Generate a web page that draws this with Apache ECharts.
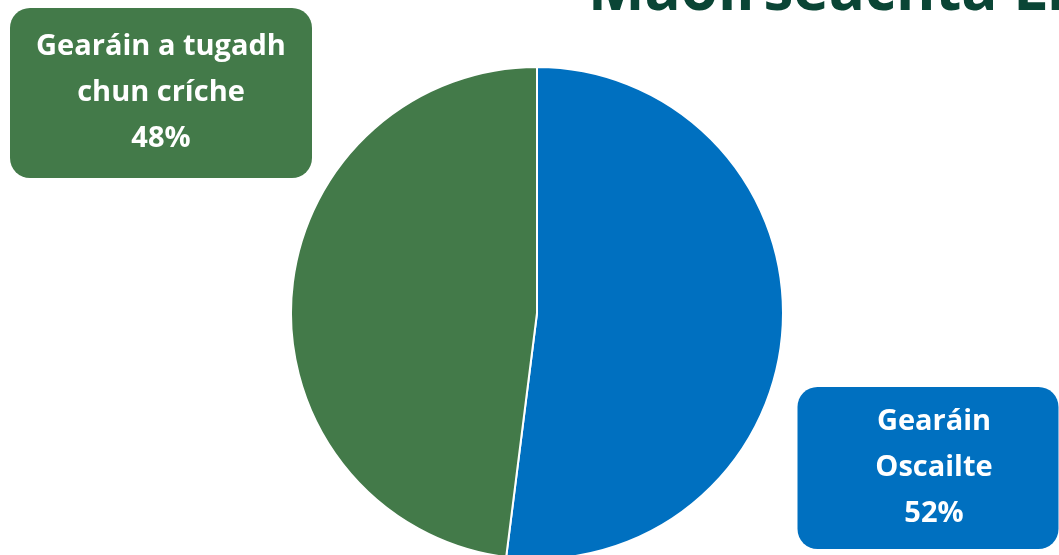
<!DOCTYPE html>
<html><head><meta charset="utf-8">
<script src="https://cdn.jsdelivr.net/npm/echarts@6/dist/echarts.min.js"></script>
<style>html,body{margin:0;padding:0;background:#fff}#c{width:1059px;height:555px}</style>
</head><body><div id="c"></div>
<script>
const categories = ["Gearáin Oscailte", "Gearáin a tugadh chun críche"];
const labelTexts = ["Gearáin\nOscailte", "Gearáin a tugadh\nchun críche"];
const values = [52, 48];
const colors = ["#0070C0", "#437A49"];
const titleText = "Maoirseachta Lı";

const chart = echarts.init(document.getElementById('c'), null, {renderer: 'canvas'});
chart.setOption({
  animation: false,
  graphic: [{
    type: 'text', left: 588, top: -37,
    style: {text: titleText, fill: '#0A4535', font: 'bold 60px "Open Sans"'}
  }],
  series: [{
    type: 'pie',
    center: [537, 313],
    radius: 246,
    startAngle: 90,
    clockwise: true,
    itemStyle: {borderColor: '#fff', borderWidth: 2},
    labelLine: {show: false},
    label: {
      show: true,
      position: 'outside',
      formatter: p => labelTexts[p.dataIndex] + '\n' + p.value + '%',
      color: '#fff',
      fontFamily: 'Open Sans',
      fontWeight: 'bold',
      fontSize: 29,
      lineHeight: 46,
      align: 'center',
      borderRadius: 20
    },
    labelLayout: function (p) {
      if (p.dataIndex === 1) {
        return {x: 161, y: 93, align: 'center', verticalAlign: 'middle'};
      }
      return {x: 928, y: 468, align: 'center', verticalAlign: 'middle'};
    },
    emphasis: {disabled: true},
    data: categories.map((c, i) => ({
      name: c, value: values[i], itemStyle: {color: colors[i]},
      label: i === 1
        ? {backgroundColor: colors[i], width: 270, padding: [19, 16, 13, 16]}
        : {backgroundColor: colors[i], width: 229, padding: [12, 10, 12, 22]}
    }))
  }]
});
</script></body></html>
